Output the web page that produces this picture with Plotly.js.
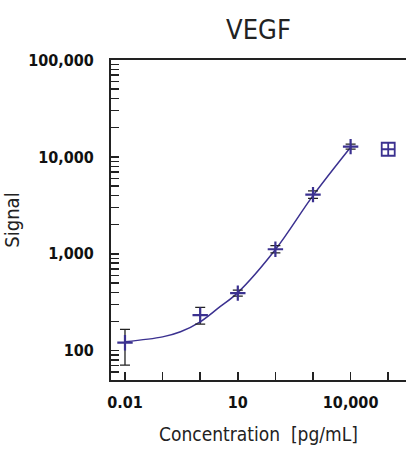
<!DOCTYPE html>
<html>
<head>
<meta charset="utf-8">
<script src="https://cdn.plot.ly/plotly-3.0.1.min.js"></script>
<style>html,body{margin:0;padding:0;background:#fff;}</style>
</head>
<body>
<div id="chart" style="width:406px;height:454px;"></div>
<script>
// Standards (concentration pg/mL) and mean signal with error bars
var conc = [0.01, 1, 10, 100, 1000, 10000];
var signal = [121, 233, 393, 1115, 4085, 12770];
var errUp = [45, 47, 29, 100, 385, 780];
var errDown = [50, 45, 27, 92, 350, 735];

// Excluded / outlier standard
var outlierConc = [100000];
var outlierSignal = [12000];

// Fitted curve
var fitConc = [0.01, 0.1, 0.3, 1, 3, 10, 100, 1000, 10000];
var fitSignal = [124, 139, 157, 199, 275, 398, 1107, 3990, 12600];

// Tick labels
var xTickVals = [0.01, 0.1, 1, 10, 100, 1000, 10000, 100000];
var xTickText = ['0.01', '', '', '10', '', '', '10,000', ''];
var yMajor = [100, 1000, 10000, 100000];
var yMajorText = ['100', '1,000', '10,000', '100,000'];

var yTickVals = [], yTickText = [];
[10, 100, 1000, 10000].forEach(function (d) {
  for (var m = 1; m <= 9; m++) {
    var v = m * d;
    if (v < 50) continue;
    yTickVals.push(v);
    var idx = yMajor.indexOf(v);
    yTickText.push(idx >= 0 ? yMajorText[idx] : '');
  }
});
yTickVals.push(100000); yTickText.push('100,000');

var purple = '#3b3190';
var fnt = '"DejaVu Sans Condensed", "Liberation Sans Narrow", sans-serif';

var traces = [
  {
    x: fitConc, y: fitSignal, type: 'scatter', mode: 'lines',
    line: {color: purple, width: 1.5, shape: 'spline', smoothing: 1},
    hoverinfo: 'skip', showlegend: false
  },
  {
    x: conc, y: signal, type: 'scatter', mode: 'markers',
    marker: {symbol: 'cross-thin-open', size: 11, color: purple, line: {color: purple, width: 2.2}},
    error_y: {type: 'data', symmetric: false, array: errUp, arrayminus: errDown,
              color: '#222', thickness: 1.3, width: 5},
    showlegend: false
  },
  {
    x: outlierConc, y: outlierSignal, type: 'scatter', mode: 'markers',
    marker: {symbol: 'square-cross-open', size: 13, color: purple, line: {color: purple, width: 1.8}},
    showlegend: false
  }
];

var layout = {
  width: 406, height: 454,
  margin: {l: 111, r: 0, t: 60, b: 74},
  paper_bgcolor: '#fff', plot_bgcolor: '#fff',
  showlegend: false,
  title: {text: 'VEGF', font: {family: fnt, size: 27, color: '#222'},
          x: 0.5, xref: 'paper', xanchor: 'center', y: 0.934, yref: 'container', yanchor: 'middle'},
  xaxis: {
    type: 'log', range: [-2.372, 5.473],
    tickvals: xTickVals, ticktext: xTickText,
    ticks: 'inside', ticklen: 8, tickwidth: 1.5, tickcolor: '#222',
    showline: true, linecolor: '#222', linewidth: 2, mirror: true,
    showgrid: false, zeroline: false,
    ticklabelstandoff: 7,
    tickfont: {family: fnt, size: 16, color: '#111', weight: 'bold'},
    title: {text: 'Concentration\u00a0 [pg/mL]', font: {family: fnt, size: 19, color: '#222'}, standoff: 16}
  },
  yaxis: {
    type: 'log', range: [1.698, 5.0],
    tickvals: yTickVals, ticktext: yTickText,
    ticks: 'inside', ticklen: 8, tickwidth: 1.5, tickcolor: '#222',
    showline: true, linecolor: '#222', linewidth: 2, mirror: false,
    showgrid: false, zeroline: false,
    ticklabelstandoff: 12,
    tickfont: {family: fnt, size: 16, color: '#111', weight: 'bold'},
    title: {text: 'Signal', font: {family: fnt, size: 20, color: '#222'}, standoff: 16}
  }
};

Plotly.newPlot('chart', traces, layout, {displayModeBar: false, staticPlot: true});
</script>
</body>
</html>
